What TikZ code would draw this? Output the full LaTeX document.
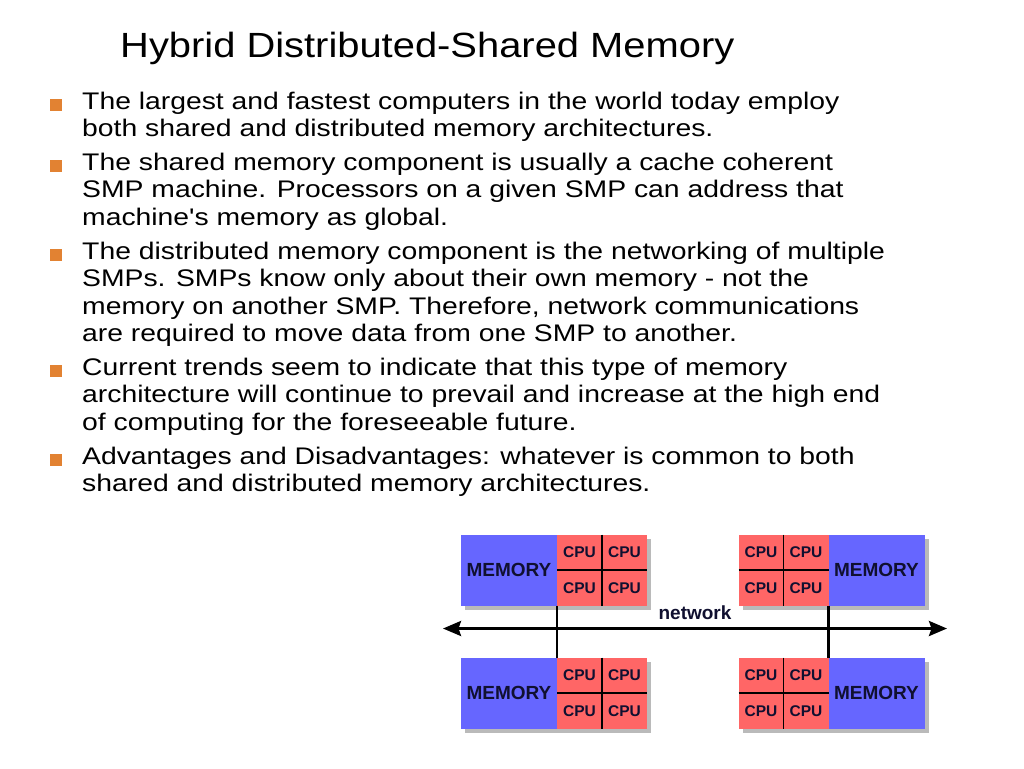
\documentclass[tikz,border=0pt]{standalone}
\usepackage{fontspec}
\setmainfont{Liberation Sans}
\newfontfamily\titlefont[FakeStretch=1.14]{Liberation Sans}
\newfontfamily\bodyfont[FakeStretch=1.18]{Liberation Sans}
\usetikzlibrary{positioning,arrows.meta,shadows}
\definecolor{memblue}{RGB}{102,102,255}
\definecolor{cpured}{RGB}{255,102,102}
\definecolor{bulletorange}{RGB}{226,130,50}
\definecolor{labelnavy}{RGB}{16,16,48}
\tikzset{
  title/.style={anchor=base west, inner sep=0pt, font=\titlefont\fontsize{35}{35}\selectfont},
  para/.style={anchor=base west, inner sep=0pt, align=left, font=\bodyfont\fontsize{24}{27.5}\selectfont},
  bullet/.style={rectangle, fill=bulletorange, minimum size=12pt, inner sep=0pt},
  boxshadow/.style={drop shadow={shadow xshift=4pt, shadow yshift=-4pt, fill=black!45, opacity=0.6}},
  memory/.style={rectangle, fill=memblue, minimum width=96pt, minimum height=71pt, inner sep=0pt, outer sep=0pt, text=labelnavy, font=\fontsize{19}{19}\selectfont\bfseries, boxshadow},
  cpu/.style={rectangle, fill=cpured, minimum width=45pt, minimum height=35.5pt, inner sep=0pt, outer sep=0pt, text=labelnavy, font=\fontsize{15.5}{15.5}\selectfont\bfseries, boxshadow},
  divider/.style={-, line width=1.6pt, draw=black},
  link/.style={-, line width=2.8pt, draw=black},
  network/.style={{Stealth[length=18pt,width=15pt,inset=2.5pt]}-{Stealth[length=18pt,width=15pt,inset=2.5pt]}, line width=2.8pt, draw=black},
  netlabel/.style={inner sep=0pt, text=labelnavy, font=\fontsize{19}{19}\selectfont\bfseries}
}
\begin{document}
\begin{tikzpicture}[x=1pt, y=-1pt]
\useasboundingbox[fill=white] (0,0) rectangle (1024,768);
\node[title] (title) at (120,57) {Hybrid Distributed-Shared Memory};
\node[bullet] (b1) at (55.5,104.5) {};
\node[bullet] (b2) at (55.5,165.5) {};
\node[bullet] (b3) at (55.5,254.5) {};
\node[bullet] (b4) at (55.5,370.5) {};
\node[bullet] (b5) at (55.5,459.5) {};
\node[para] (p1) at (82,136.5) {The largest and fastest computers in the world today employ\\both shared and distributed memory architectures.};
\node[para] (p2) at (82,225) {The shared memory component is usually a cache coherent\\SMP machine. Processors on a given SMP can address that\\machine's memory as global.};
\node[para] (p3) at (82,341.5) {The distributed memory component is the networking of multiple\\SMPs. SMPs know only about their own memory - not the\\memory on another SMP. Therefore, network communications\\are required to move data from one SMP to another.};
\node[para] (p4) at (82,430) {Current trends seem to indicate that this type of memory\\architecture will continue to prevail and increase at the high end\\of computing for the foreseeable future.};
\node[para] (p5) at (82,491.5) {Advantages and Disadvantages: whatever is common to both\\shared and distributed memory architectures.};
\node[memory] (mem1) at (509,570) {MEMORY};
\node[cpu, anchor=north west] (c1a) at (mem1.north east) {CPU};
\node[cpu, right=0pt of c1a] (c1b) {CPU};
\node[cpu, below=0pt of c1a] (c1c) {CPU};
\node[cpu, right=0pt of c1c] (c1d) {CPU};
\node[cpu, anchor=north west] (c2a) at (738.5,534.5) {CPU};
\node[cpu, right=0pt of c2a] (c2b) {CPU};
\node[cpu, below=0pt of c2a] (c2c) {CPU};
\node[cpu, right=0pt of c2c] (c2d) {CPU};
\node[memory, anchor=north west] (mem2) at (c2b.north east) {MEMORY};
\node[memory] (mem3) at (509,693) {MEMORY};
\node[cpu, anchor=north west] (c3a) at (mem3.north east) {CPU};
\node[cpu, right=0pt of c3a] (c3b) {CPU};
\node[cpu, below=0pt of c3a] (c3c) {CPU};
\node[cpu, right=0pt of c3c] (c3d) {CPU};
\node[cpu, anchor=north west] (c4a) at (738.5,657.5) {CPU};
\node[cpu, right=0pt of c4a] (c4b) {CPU};
\node[cpu, below=0pt of c4a] (c4c) {CPU};
\node[cpu, right=0pt of c4c] (c4d) {CPU};
\node[memory, anchor=north west] (mem4) at (c4b.north east) {MEMORY};
\draw[divider] (c1a.north east) -- (c1d.south west);
\draw[divider] (c1a.south west) -- (c1b.south east);
\draw[divider] (c2a.north east) -- (c2d.south west);
\draw[divider] (c2a.south west) -- (c2b.south east);
\draw[divider] (c3a.north east) -- (c3d.south west);
\draw[divider] (c3a.south west) -- (c3b.south east);
\draw[divider] (c4a.north east) -- (c4d.south west);
\draw[divider] (c4a.south west) -- (c4b.south east);
\coordinate (netL) at (443,628.5);
\coordinate (netR) at (947,628.5);
\node[netlabel] (netlab) at (695,613) {network};
\path[link] (mem1.south east) edge (mem3.north east);
\path[link] (mem2.south west) edge (mem4.north west);
\draw[network] (netL) -- (netR);
\end{tikzpicture}
\end{document}
